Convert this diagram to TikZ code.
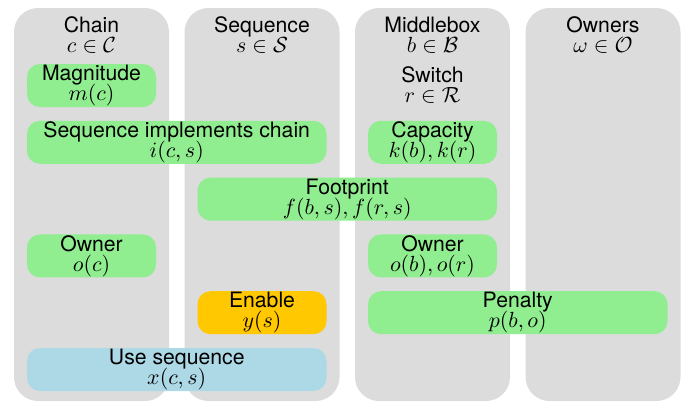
\documentclass[tikz,border=0pt]{standalone}
\usepackage{amsmath}
\usepackage{amssymb}
\usepackage{fontspec}
\setmainfont{TeX Gyre Heros}
\usepackage{tikz}

\definecolor{colgray}{HTML}{DCDCDC}
\definecolor{cellgreen}{HTML}{90EE90}
\definecolor{cellblue}{HTML}{ADD8E6}
\definecolor{cellorange}{HTML}{FFC800}

\newcommand{\cellfont}{\fontsize{10.6}{10}\selectfont\setlength{\lineskiplimit}{-20pt}}

\begin{document}
\begin{tikzpicture}[x=0.5pt, y=-0.5pt,
    every node/.style={align=center, inner sep=0pt, font=\cellfont},
    cell/.style={rounded corners=6.5pt, minimum width=64.5pt, minimum height=21.5pt},
    wide/.style={cell, minimum width=149.75pt}]

\useasboundingbox (0,0) rectangle (683,402);

% the four columns
\foreach \i/\cx in {1/91.5, 2/262, 3/432.5, 4/603}
    \fill [colgray, rounded corners=12pt] (\cx-77.5,8) rectangle (\cx+77.5,401);

% column headings
\node (chain)  at (91.5,35)  {Chain\\$c \in \mathcal{C}$};
\node (seq)    at (262,35)   {Sequence\\$s \in \mathcal{S}$};
\node (mbox)   at (432.5,35) {Middlebox\\$b \in \mathcal{B}$};
\node (owners) at (603,35)   {Owners\\$\omega \in \mathcal{O}$};
\node (switch) at (432.5,85.5) {Switch\\$r \in \mathcal{R}$};

% parameters and variables
\node [cell, fill=cellgreen]  (mag)   at (91.5,85.5)    {Magnitude\\$m(c)$};
\node [wide, fill=cellgreen]  (impl)  at (176.75,142.3) {Sequence implements chain\\$i(c,s)$};
\node [cell, fill=cellgreen]  (cap)   at (432.5,142.3)  {Capacity\\$k(b), k(r)$};
\node [wide, fill=cellgreen]  (foot)  at (347.25,199.1) {Footprint\\$f(b,s), f(r,s)$};
\node [cell, fill=cellgreen]  (cown)  at (91.5,255.9)   {Owner\\$o(c)$};
\node [cell, fill=cellgreen]  (bown)  at (432.5,255.9)  {Owner\\$o(b), o(r)$};
\node [cell, fill=cellorange] (en)    at (262,312.7)    {Enable\\$y(s)$};
\node [wide, fill=cellgreen]  (pen)   at (517.75,312.7) {Penalty\\$p(b,o)$};
\node [wide, fill=cellblue]   (use)   at (176.75,369.5) {Use sequence\\$x(c,s)$};

\end{tikzpicture}
\end{document}
